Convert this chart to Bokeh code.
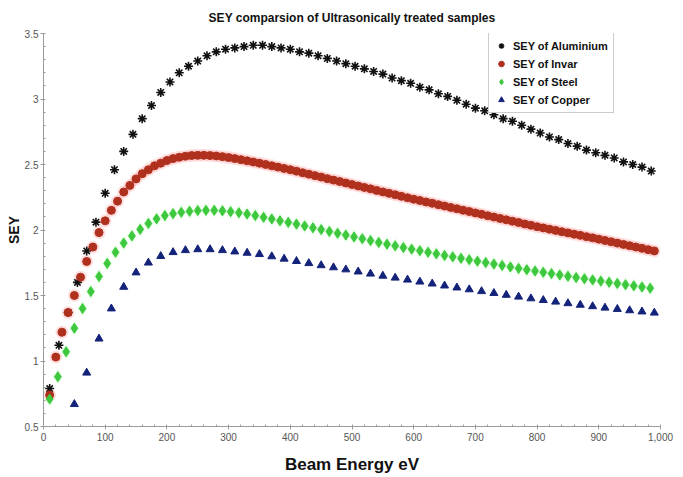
from bokeh.plotting import figure
from bokeh.models import Range1d, NumeralTickFormatter, FixedTicker
from bokeh.embed import file_html
from bokeh.resources import INLINE

# ---------------- data ----------------
al_energy = list(range(10, 1000, 15))
al_sey = [0.79, 1.12, 1.37, 1.60, 1.84, 2.06, 2.28, 2.46, 2.60, 2.73,
          2.85, 2.95, 3.05, 3.13, 3.20, 3.25, 3.29, 3.33, 3.36, 3.38,
          3.39, 3.40, 3.41, 3.41, 3.40, 3.39, 3.38, 3.36, 3.35, 3.33,
          3.31, 3.29, 3.27, 3.25, 3.23, 3.21, 3.19, 3.16, 3.14, 3.12,
          3.09, 3.07, 3.04, 3.02, 2.99, 2.96, 2.93, 2.91, 2.88, 2.85,
          2.83, 2.80, 2.77, 2.74, 2.71, 2.69, 2.66, 2.64, 2.61, 2.59,
          2.57, 2.55, 2.52, 2.50, 2.48, 2.45]

invar_energy = list(range(10, 1000, 10))
invar_sey = [0.74, 1.03, 1.22, 1.37, 1.50, 1.64, 1.76, 1.87, 1.98, 2.07,
             2.15, 2.22, 2.29, 2.34, 2.39, 2.43, 2.46, 2.49, 2.51, 2.53,
             2.545, 2.555, 2.563, 2.568, 2.57, 2.57, 2.568, 2.565, 2.56, 2.553,
             2.545, 2.537, 2.528, 2.519, 2.51, 2.50, 2.49, 2.48, 2.47, 2.46,
             2.449, 2.437, 2.426, 2.415, 2.404, 2.392, 2.381, 2.37, 2.359, 2.347,
             2.336, 2.325, 2.314, 2.302, 2.291, 2.28, 2.269, 2.257, 2.246, 2.235,
             2.225, 2.214, 2.204, 2.193, 2.183, 2.172, 2.162, 2.151, 2.141, 2.13,
             2.12, 2.109, 2.099, 2.088, 2.078, 2.067, 2.057, 2.046, 2.036, 2.025,
             2.016, 2.006, 1.997, 1.987, 1.978, 1.968, 1.959, 1.949, 1.94, 1.93,
             1.92, 1.91, 1.90, 1.89, 1.88, 1.87, 1.86, 1.85, 1.84]

steel_energy = [round(10 + k * 40 / 3, 1) for k in range(74)]
steel_sey = [0.71, 0.88, 1.07, 1.25, 1.40, 1.53, 1.645, 1.745, 1.83, 1.90,
             1.955, 2.005, 2.05, 2.085, 2.11, 2.125, 2.135, 2.143, 2.148, 2.15,
             2.15, 2.146, 2.14, 2.132, 2.122, 2.11, 2.097, 2.084, 2.07, 2.058,
             2.045, 2.031, 2.017, 2.003, 1.989, 1.975, 1.961, 1.947, 1.933, 1.919,
             1.905, 1.892, 1.879, 1.866, 1.854, 1.842, 1.83, 1.818, 1.806, 1.795,
             1.784, 1.773, 1.762, 1.751, 1.74, 1.729, 1.718, 1.707, 1.697, 1.687,
             1.677, 1.667, 1.657, 1.647, 1.637, 1.628, 1.619, 1.61, 1.601, 1.592,
             1.583, 1.574, 1.565, 1.556]

cu_energy = list(range(50, 1000, 20))
cu_sey = [0.67, 0.91, 1.17, 1.40, 1.565, 1.675, 1.75, 1.80, 1.83, 1.845,
          1.852, 1.852, 1.845, 1.835, 1.825, 1.815, 1.798, 1.78, 1.762, 1.746,
          1.73, 1.714, 1.698, 1.682, 1.666, 1.65, 1.635, 1.62, 1.605, 1.59,
          1.575, 1.56, 1.546, 1.532, 1.518, 1.504, 1.49, 1.477, 1.464, 1.452,
          1.44, 1.428, 1.417, 1.406, 1.396, 1.386, 1.377, 1.368]

x_ticks = list(range(0, 1001, 100))
x_minor = list(range(0, 1001, 20))
y_ticks = [0.5, 1, 1.5, 2, 2.5, 3, 3.5]
y_tick_labels = ["0.5", "1", "1.5", "2", "2.5", "3", "3.5"]
y_minor = [round(0.5 + 0.1 * i, 1) for i in range(31)]

FONT = "Liberation Sans"

# ---------------- figure ----------------
p = figure(width=683, height=477, output_backend="svg", toolbar_location=None,
           x_range=Range1d(0, 1000), y_range=Range1d(0.5, 3.5),
           min_border_left=43, min_border_right=23,
           min_border_top=33, min_border_bottom=51,
           title="SEY comparsion of Ultrasonically treated samples")
p.outline_line_color = None
p.grid.visible = False
p.background_fill_color = "white"

p.title.align = "center"
p.title.vertical_align = "top"
p.title.text_font = FONT
p.title.text_font_style = "bold"
p.title.text_font_size = "12px"
p.title.text_color = "#111111"
p.title.standoff = 13

# axes
for ax in (p.xaxis[0], p.yaxis[0]):
    ax.axis_line_color = "#9a9a9a"
    ax.major_tick_line_color = "#9a9a9a"
    ax.minor_tick_line_color = "#9a9a9a"
    ax.major_label_text_font = FONT
    ax.major_label_text_font_size = "10px"
    ax.major_label_text_color = "#555555"
    ax.axis_label_text_font = FONT
    ax.axis_label_text_font_style = "bold"
    ax.axis_label_text_color = "#111111"
    ax.major_tick_in = 0
    ax.major_tick_out = 3
    ax.minor_tick_in = 2
    ax.minor_tick_out = 0

p.xaxis.ticker = FixedTicker(ticks=x_ticks, minor_ticks=x_minor)
p.xaxis.formatter = NumeralTickFormatter(format="0,0")
p.xaxis.axis_label = "Beam Energy eV"
p.xaxis.axis_label_text_font_size = "17px"
p.xaxis.major_label_standoff = 3
p.xaxis.axis_label_standoff = 11

p.yaxis.ticker = FixedTicker(ticks=y_ticks, minor_ticks=y_minor)
p.yaxis.major_label_overrides = dict(zip(y_ticks, y_tick_labels))
p.yaxis.axis_label = "SEY"
p.yaxis.axis_label_text_font_size = "14px"
p.yaxis.major_label_standoff = 2
p.yaxis.axis_label_standoff = 0

# glow halos
p.scatter(invar_energy, invar_sey, marker="circle", size=13,
          fill_color="#ff7070", line_color=None, fill_alpha=0.22)
p.scatter(steel_energy, steel_sey, marker="diamond", size=15,
          fill_color="#70ff70", line_color=None, fill_alpha=0.22)

# series
p.scatter(al_energy, al_sey, marker="asterisk", size=9, line_color="#111111",
          line_width=1.6, legend_label="SEY of Aluminium")
p.scatter(invar_energy, invar_sey, marker="circle", size=8, fill_color="#b0301e",
          line_color="#b0301e", legend_label="SEY of Invar")
p.scatter(steel_energy, steel_sey, marker="diamond", size=10, fill_color="#3ec83e",
          line_color="#3ec83e", legend_label="SEY of Steel")
p.scatter(cu_energy, cu_sey, marker="triangle", size=8, fill_color="#14237a",
          line_color="#14237a", legend_label="SEY of Copper")

lg = p.legend[0]
lg.location = (445, 313)
lg.border_line_color = "#9a9a9a"
lg.border_line_width = 1
lg.background_fill_alpha = 1
lg.label_text_font = FONT
lg.label_text_font_style = "bold"
lg.label_text_font_size = "11px"
lg.label_text_color = "#111111"
lg.glyph_width = 14
lg.glyph_height = 15
lg.label_height = 15
lg.label_standoff = 5
lg.spacing = 3
lg.padding = 5
lg.margin = 0

open("out.html", "w").write(file_html(p, INLINE))
